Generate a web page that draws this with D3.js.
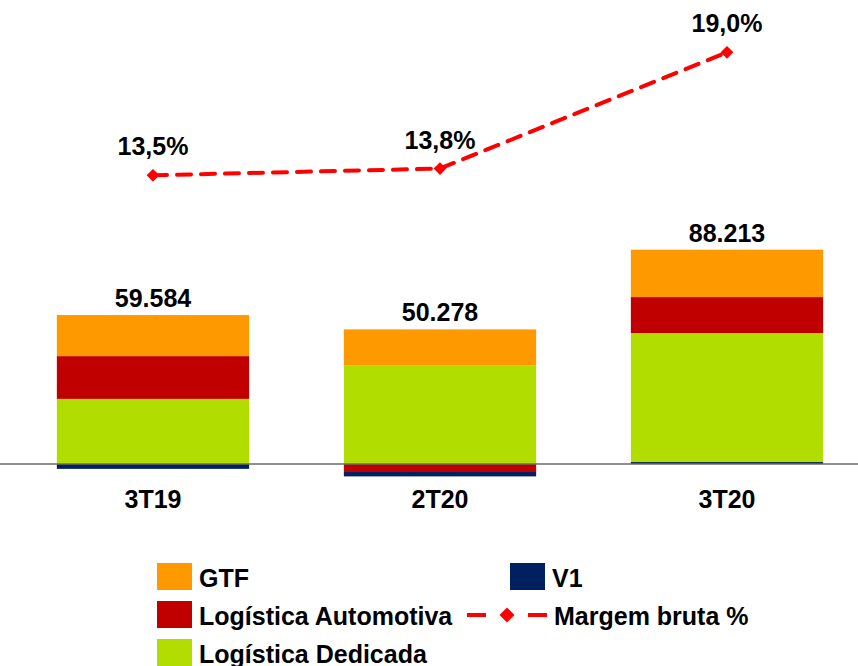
<!DOCTYPE html>
<html>
<head>
<meta charset="utf-8">
<script src="https://cdn.jsdelivr.net/npm/d3@7"></script>
<style>
  body { margin: 0; background: #fff; }
  text { font-family: "Liberation Sans", Arial, sans-serif; font-weight: bold; fill: #000; }
</style>
</head>
<body>
<script>
var WIDTH = 858;
var HEIGHT = 666;
var FONT = 25;

var categories = ["3T19", "2T20", "3T20"];
var totalLabels = ["59.584", "50.278", "88.213"];
var seriesNames = ["V1", "Logística Dedicada", "Logística Automotiva", "GTF"];
var v1 = [-2.0, -1.8, 0.8];
var dedicada = [26.8, 40.7, 53.1];
var automotiva = [17.6, -3.3, 14.8];
var gtf = [16.9, 14.7, 19.5];
var margem = [13.5, 13.8, 19.0];
var margemLabels = ["13,5%", "13,8%", "19,0%"];

var colors = {
  "GTF": "#FF9900",
  "Logística Automotiva": "#C00000",
  "Logística Dedicada": "#B2DD00",
  "V1": "#002060"
};

var seriesValues = [v1, dedicada, automotiva, gtf];
// negatives stack with automotiva closest to zero, then v1
var negOrder = [2, 1, 3, 0];

var svg = d3.select("body")
  .append("svg")
  .attr("width", WIDTH)
  .attr("height", HEIGHT);

var x = d3.scaleBand()
  .domain(categories)
  .range([9.5, 870.5])
  .paddingInner(0.33)
  .paddingOuter(0.165);

var y = d3.scaleLinear()
  .domain([0, 100])
  .range([464, 221]);

var y2 = d3.scaleLinear()
  .domain([0, 20])
  .range([477, 30]);

// build stacked rects
var rects = [];
for (let i = 0; i < categories.length; i++) {
  let pos = 0;
  for (let s = 0; s < seriesValues.length; s++) {
    let v = seriesValues[s][i];
    if (v > 0) {
      rects.push({ cat: categories[i], name: seriesNames[s], y0: pos, y1: pos + v });
      pos += v;
    }
  }
  let neg = 0;
  for (let k = 0; k < negOrder.length; k++) {
    let s = negOrder[k];
    let v = seriesValues[s][i];
    if (v < 0) {
      rects.push({ cat: categories[i], name: seriesNames[s], y0: neg + v, y1: neg });
      neg += v;
    }
  }
}

svg.selectAll("rect.bar")
  .data(rects)
  .enter()
  .append("rect")
  .attr("class", "bar")
  .attr("x", function (d) { return x(d.cat); })
  .attr("width", x.bandwidth())
  .attr("y", function (d) { return y(d.y1); })
  .attr("height", function (d) { return y(d.y0) - y(d.y1); })
  .attr("fill", function (d) { return colors[d.name]; });

// zero line
svg.append("line")
  .attr("x1", 0)
  .attr("x2", WIDTH)
  .attr("y1", y(0))
  .attr("y2", y(0))
  .attr("stroke", "#6b6b6b")
  .attr("stroke-width", 1.5);

// total labels
var tops = categories.map(function (c, i) {
  let t = 0;
  seriesValues.forEach(function (s) { if (s[i] > 0) t += s[i]; });
  return t;
});

svg.selectAll("text.total")
  .data(categories)
  .enter()
  .append("text")
  .attr("class", "total")
  .attr("x", function (d) { return x(d) + x.bandwidth() / 2; })
  .attr("y", function (d, i) { return y(tops[i]) - 8; })
  .attr("text-anchor", "middle")
  .attr("font-size", FONT)
  .text(function (d, i) { return totalLabels[i]; });

// category labels
svg.selectAll("text.cat")
  .data(categories)
  .enter()
  .append("text")
  .attr("class", "cat")
  .attr("x", function (d) { return x(d) + x.bandwidth() / 2; })
  .attr("y", 508)
  .attr("text-anchor", "middle")
  .attr("font-size", FONT)
  .text(function (d) { return d; });

// margin line
var line = d3.line()
  .x(function (d, i) { return x(categories[i]) + x.bandwidth() / 2; })
  .y(function (d) { return y2(d); });

svg.append("path")
  .datum(margem)
  .attr("d", line)
  .attr("fill", "none")
  .attr("stroke", "#FF0000")
  .attr("stroke-width", 4)
  .attr("stroke-dasharray", "14,10")
  .attr("stroke-linecap", "round");

var diamond = d3.symbol().type(d3.symbolSquare).size(81);
var diamondLg = d3.symbol().type(d3.symbolSquare).size(112);

svg.selectAll("path.marker")
  .data(margem)
  .enter()
  .append("path")
  .attr("class", "marker")
  .attr("d", diamond)
  .attr("transform", function (d, i) {
    return "translate(" + (x(categories[i]) + x.bandwidth() / 2) + "," + y2(d) + ") rotate(45)";
  })
  .attr("fill", "#FF0000");

svg.selectAll("text.pct")
  .data(margem)
  .enter()
  .append("text")
  .attr("class", "pct")
  .attr("x", function (d, i) { return x(categories[i]) + x.bandwidth() / 2; })
  .attr("y", function (d) { return y2(d) - 20; })
  .attr("text-anchor", "middle")
  .attr("font-size", FONT)
  .text(function (d, i) { return margemLabels[i]; });

// legend
var legendItems = [
  { name: "GTF", type: "box", x: 157, y: 563 },
  { name: "V1", type: "box", x: 510, y: 563 },
  { name: "Logística Automotiva", type: "box", x: 157, y: 601 },
  { name: "Margem bruta %", type: "line", x: 467, y: 601 },
  { name: "Logística Dedicada", type: "box", x: 157, y: 639 }
];

var lg = svg.selectAll("g.legend")
  .data(legendItems)
  .enter()
  .append("g")
  .attr("class", "legend")
  .attr("transform", function (d) { return "translate(" + d.x + "," + d.y + ")"; });

lg.filter(function (d) { return d.type == "box"; })
  .append("rect")
  .attr("width", 35)
  .attr("height", 27)
  .attr("fill", function (d) { return colors[d.name]; });

lg.filter(function (d) { return d.type == "box"; })
  .append("text")
  .attr("x", 42)
  .attr("y", 23.5)
  .attr("font-size", FONT)
  .text(function (d) { return d.name; });

var lineLg = lg.filter(function (d) { return d.type == "line"; });
lineLg.append("line")
  .attr("x1", 0).attr("x2", 80)
  .attr("y1", 14).attr("y2", 14)
  .attr("stroke", "#FF0000")
  .attr("stroke-width", 4)
  .attr("stroke-dasharray", "19,42,19");
lineLg.append("path")
  .attr("d", diamondLg)
  .attr("transform", "translate(40,14) rotate(45)")
  .attr("fill", "#FF0000");
lineLg.append("text")
  .attr("x", 87)
  .attr("y", 23.5)
  .attr("font-size", FONT)
  .text(function (d) { return d.name; });
</script>
</body>
</html>
